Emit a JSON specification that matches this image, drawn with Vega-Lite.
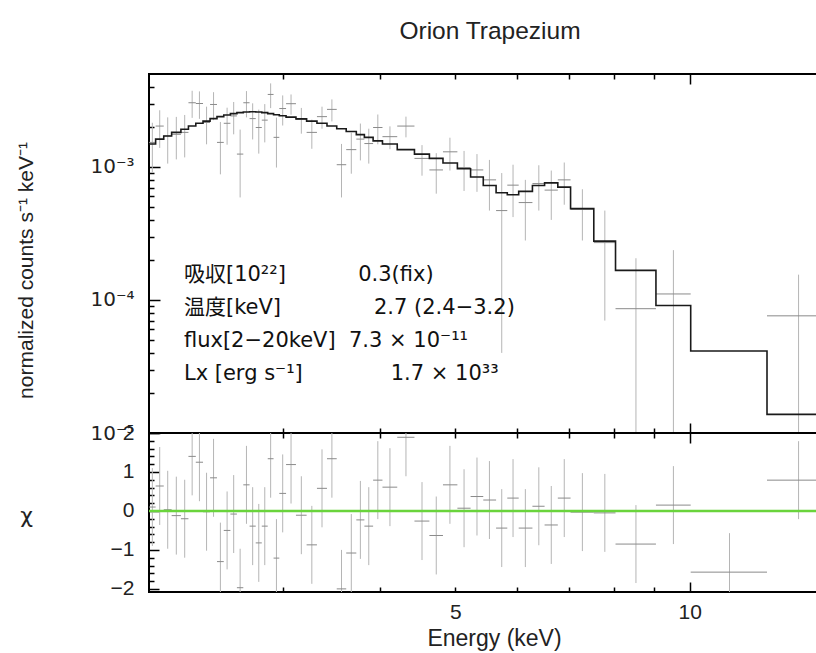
{
  "$schema": "https://vega.github.io/schema/vega-lite/v6.json",
  "background": "white",
  "padding": {"left": 14, "top": 18, "right": 0, "bottom": 3},
  "spacing": 0,
  "bounds": "flush",
  "title": {"text": "Orion Trapezium", "font": "Liberation Sans", "fontSize": 24.5, "fontWeight": "normal", "color": "#222", "offset": 28, "anchor": "middle", "frame": "group", "dx": 6},
  "config": {
    "view": {"stroke": "#000", "strokeWidth": 2},
    "axis": {"grid": false, "domain": false, "tickColor": "#000", "tickWidth": 1.5, "labelFont": "Liberation Sans", "labelFontSize": 21, "labelColor": "#222", "titleFont": "Liberation Sans", "titleFontSize": 21, "titleFontWeight": "normal", "titleColor": "#222"}
  },
  "datasets": {
    "bins": [
      {"lo":2.02,"hi":2.06,"e":2.04,"flux":0.00153,"flo":0.00091,"fhi":0.00215,"res":0.1,"rlo":-0.9,"rhi":1.1},
      {"lo":2.06,"hi":2.11,"e":2.085,"flux":0.00203,"flo":0.00139,"fhi":0.00267,"res":0.64,"rlo":-0.36,"rhi":1.64},
      {"lo":2.11,"hi":2.16,"e":2.135,"flux":0.00171,"flo":0.00106,"fhi":0.00236,"res":0.03,"rlo":-0.97,"rhi":1.03},
      {"lo":2.16,"hi":2.22,"e":2.19,"flux":0.00176,"flo":0.00114,"fhi":0.00238,"res":-0.12,"rlo":-1.12,"rhi":0.88},
      {"lo":2.22,"hi":2.27,"e":2.245,"flux":0.00182,"flo":0.00118,"fhi":0.00246,"res":-0.2,"rlo":-1.2,"rhi":0.8},
      {"lo":2.27,"hi":2.32,"e":2.295,"flux":0.00304,"flo":0.00234,"fhi":0.00374,"res":1.4,"rlo":0.4,"rhi":2.4},
      {"lo":2.32,"hi":2.37,"e":2.345,"flux":0.003,"flo":0.0023,"fhi":0.0037,"res":1.25,"rlo":0.25,"rhi":2.25},
      {"lo":2.37,"hi":2.42,"e":2.395,"flux":0.00216,"flo":0.00148,"fhi":0.00284,"res":-0.02,"rlo":-1.02,"rhi":0.98},
      {"lo":2.42,"hi":2.47,"e":2.445,"flux":0.00295,"flo":0.00225,"fhi":0.00365,"res":0.85,"rlo":-0.15,"rhi":1.85},
      {"lo":2.47,"hi":2.52,"e":2.495,"flux":0.00153,"flo":0.00088,"fhi":0.00218,"res":-1.3,"rlo":-2.3,"rhi":-0.3},
      {"lo":2.52,"hi":2.57,"e":2.545,"flux":0.00213,"flo":0.00147,"fhi":0.00279,"res":-0.5,"rlo":-1.5,"rhi":0.5},
      {"lo":2.57,"hi":2.62,"e":2.595,"flux":0.00242,"flo":0.00176,"fhi":0.00308,"res":-0.08,"rlo":-1.08,"rhi":0.92},
      {"lo":2.62,"hi":2.67,"e":2.645,"flux":0.00125,"flo":0.00059,"fhi":0.00191,"res":-1.97,"rlo":-2.97,"rhi":-0.97},
      {"lo":2.67,"hi":2.72,"e":2.695,"flux":0.00304,"flo":0.00236,"fhi":0.00372,"res":0.67,"rlo":-0.33,"rhi":1.67},
      {"lo":2.72,"hi":2.77,"e":2.745,"flux":0.00231,"flo":0.00161,"fhi":0.00301,"res":-0.39,"rlo":-1.39,"rhi":0.61},
      {"lo":2.77,"hi":2.82,"e":2.795,"flux":0.00198,"flo":0.00126,"fhi":0.0027,"res":-0.82,"rlo":-1.82,"rhi":0.18},
      {"lo":2.82,"hi":2.87,"e":2.845,"flux":0.00225,"flo":0.00153,"fhi":0.00297,"res":-0.39,"rlo":-1.39,"rhi":0.61},
      {"lo":2.87,"hi":2.92,"e":2.895,"flux":0.00351,"flo":0.00277,"fhi":0.00425,"res":1.34,"rlo":0.34,"rhi":2.34},
      {"lo":2.92,"hi":2.97,"e":2.945,"flux":0.00167,"flo":0.00099,"fhi":0.00235,"res":-1.21,"rlo":-2.21,"rhi":-0.21},
      {"lo":2.97,"hi":3.03,"e":3.0,"flux":0.00275,"flo":0.00205,"fhi":0.00345,"res":0.45,"rlo":-0.55,"rhi":1.45},
      {"lo":3.03,"hi":3.12,"e":3.075,"flux":0.00299,"flo":0.00247,"fhi":0.00351,"res":1.19,"rlo":0.19,"rhi":2.19},
      {"lo":3.12,"hi":3.22,"e":3.17,"flux":0.00228,"flo":0.00178,"fhi":0.00278,"res":-0.11,"rlo":-1.11,"rhi":0.89},
      {"lo":3.22,"hi":3.32,"e":3.27,"flux":0.00182,"flo":0.00137,"fhi":0.00227,"res":-0.87,"rlo":-1.87,"rhi":0.13},
      {"lo":3.32,"hi":3.42,"e":3.37,"flux":0.00239,"flo":0.00194,"fhi":0.00284,"res":0.58,"rlo":-0.42,"rhi":1.58},
      {"lo":3.42,"hi":3.52,"e":3.47,"flux":0.00271,"flo":0.0022,"fhi":0.00322,"res":1.34,"rlo":0.34,"rhi":2.34},
      {"lo":3.52,"hi":3.62,"e":3.57,"flux":0.00104,"flo":0.00059,"fhi":0.00149,"res":-2.0,"rlo":-3.0,"rhi":-1.0},
      {"lo":3.62,"hi":3.73,"e":3.675,"flux":0.00135,"flo":0.00089,"fhi":0.00181,"res":-1.08,"rlo":-2.08,"rhi":-0.08},
      {"lo":3.73,"hi":3.82,"e":3.775,"flux":0.00162,"flo":0.00112,"fhi":0.00212,"res":-0.23,"rlo":-1.23,"rhi":0.77},
      {"lo":3.82,"hi":3.92,"e":3.87,"flux":0.0015,"flo":0.00106,"fhi":0.00194,"res":-0.39,"rlo":-1.39,"rhi":0.61},
      {"lo":3.92,"hi":4.03,"e":3.975,"flux":0.00198,"flo":0.00148,"fhi":0.00248,"res":0.79,"rlo":-0.21,"rhi":1.79},
      {"lo":4.03,"hi":4.21,"e":4.12,"flux":0.00169,"flo":0.00136,"fhi":0.00202,"res":0.61,"rlo":-0.39,"rhi":1.61},
      {"lo":4.21,"hi":4.43,"e":4.32,"flux":0.00203,"flo":0.00167,"fhi":0.00239,"res":1.89,"rlo":0.89,"rhi":2.89},
      {"lo":4.43,"hi":4.63,"e":4.53,"flux":0.00116,"flo":0.00086,"fhi":0.00146,"res":-0.26,"rlo":-1.26,"rhi":0.74},
      {"lo":4.63,"hi":4.82,"e":4.725,"flux":0.00095,"flo":0.00063,"fhi":0.00127,"res":-0.63,"rlo":-1.63,"rhi":0.37},
      {"lo":4.82,"hi":5.03,"e":4.92,"flux":0.0013,"flo":0.00094,"fhi":0.00166,"res":0.67,"rlo":-0.33,"rhi":1.67},
      {"lo":5.03,"hi":5.23,"e":5.13,"flux":0.00099,"flo":0.00066,"fhi":0.00132,"res":0.07,"rlo":-0.93,"rhi":1.07},
      {"lo":5.23,"hi":5.43,"e":5.33,"flux":0.00095,"flo":0.00065,"fhi":0.00125,"res":0.37,"rlo":-0.63,"rhi":1.37},
      {"lo":5.43,"hi":5.64,"e":5.53,"flux":0.0008,"flo":0.00047,"fhi":0.00113,"res":0.28,"rlo":-0.72,"rhi":1.28},
      {"lo":5.64,"hi":5.83,"e":5.735,"flux":0.00047,"flo":0.00004,"fhi":0.0009,"res":-0.44,"rlo":-1.44,"rhi":0.56},
      {"lo":5.83,"hi":6.03,"e":5.93,"flux":0.00073,"flo":0.00042,"fhi":0.00104,"res":0.33,"rlo":-0.67,"rhi":1.33},
      {"lo":6.03,"hi":6.28,"e":6.15,"flux":0.00054,"flo":0.00028,"fhi":0.0008,"res":-0.44,"rlo":-1.44,"rhi":0.56},
      {"lo":6.28,"hi":6.51,"e":6.4,"flux":0.00075,"flo":0.00047,"fhi":0.00103,"res":0.12,"rlo":-0.88,"rhi":1.12},
      {"lo":6.51,"hi":6.77,"e":6.64,"flux":0.00067,"flo":0.0004,"fhi":0.00094,"res":-0.36,"rlo":-1.36,"rhi":0.64},
      {"lo":6.77,"hi":7.03,"e":6.9,"flux":0.0008,"flo":0.00052,"fhi":0.00108,"res":0.33,"rlo":-0.67,"rhi":1.33},
      {"lo":7.03,"hi":7.53,"e":7.28,"flux":0.00048,"flo":0.00028,"fhi":0.00068,"res":-0.03,"rlo":-1.03,"rhi":0.97},
      {"lo":7.53,"hi":8.03,"e":7.78,"flux":0.00027,"flo":0.00007,"fhi":0.00047,"res":-0.05,"rlo":-1.05,"rhi":0.95},
      {"lo":8.03,"hi":9.05,"e":8.53,"flux":0.000086,"flo":0.000001,"fhi":0.000206,"res":-0.85,"rlo":-1.85,"rhi":0.15},
      {"lo":9.05,"hi":10.03,"e":9.53,"flux":0.000111,"flo":0.000001,"fhi":0.000237,"res":0.15,"rlo":-0.85,"rhi":1.15},
      {"lo":10.03,"hi":12.57,"e":11.25,"flux":null,"flo":null,"fhi":null,"res":-1.57,"rlo":-2.57,"rhi":-0.57},
      {"lo":12.57,"hi":15.2,"e":13.8,"flux":0.000076,"flo":0.000001,"fhi":0.000155,"res":0.79,"rlo":-0.21,"rhi":1.79}
    ],
    "model": [
      {"e":2.02,"m":0.00149},{"e":2.06,"m":0.00162},{"e":2.11,"m":0.00171},{"e":2.16,"m":0.00182},{"e":2.22,"m":0.00192},
      {"e":2.27,"m":0.00203},{"e":2.32,"m":0.00213},{"e":2.37,"m":0.00221},{"e":2.42,"m":0.00231},{"e":2.47,"m":0.00239},
      {"e":2.52,"m":0.00246},{"e":2.57,"m":0.00252},{"e":2.62,"m":0.00256},{"e":2.67,"m":0.00259},{"e":2.72,"m":0.0026},
      {"e":2.77,"m":0.00259},{"e":2.82,"m":0.00256},{"e":2.87,"m":0.00252},{"e":2.92,"m":0.00247},{"e":2.97,"m":0.00243},
      {"e":3.03,"m":0.00237},{"e":3.12,"m":0.0023},{"e":3.22,"m":0.00221},{"e":3.32,"m":0.00213},{"e":3.42,"m":0.00203},
      {"e":3.52,"m":0.00194},{"e":3.62,"m":0.00185},{"e":3.73,"m":0.00175},{"e":3.82,"m":0.00167},{"e":3.92,"m":0.00157},
      {"e":4.03,"m":0.00149},{"e":4.21,"m":0.00135},{"e":4.43,"m":0.00125},{"e":4.63,"m":0.00116},{"e":4.82,"m":0.00107},
      {"e":5.03,"m":0.00097},{"e":5.23,"m":0.00084},{"e":5.43,"m":0.000725},{"e":5.64,"m":0.00064},{"e":5.83,"m":0.000618},
      {"e":6.03,"m":0.000655},{"e":6.28,"m":0.000725},{"e":6.51,"m":0.00076},{"e":6.77,"m":0.000705},{"e":7.03,"m":0.000486},
      {"e":7.53,"m":0.000277},{"e":8.03,"m":0.000167},{"e":9.05,"m":0.000091},{"e":10.03,"m":0.0000414},{"e":12.57,"m":0.0000138},
      {"e":15.2,"m":0.0000138}
    ],
    "notes": [
      {"x":2.24,"y":0.000154,"t":"吸収[10²²]"},
      {"x":3.75,"y":0.000154,"t":"0.3(fix)"},
      {"x":2.24,"y":0.000087,"t":"温度[keV]"},
      {"x":3.93,"y":0.000087,"t":"2.7 (2.4−3.2)"},
      {"x":2.24,"y":0.000049,"t":"flux[2−20keV]"},
      {"x":3.65,"y":0.000049,"t":"7.3 × 10⁻¹¹"},
      {"x":2.24,"y":0.000028,"t":"Lx [erg s⁻¹]"},
      {"x":4.13,"y":0.000028,"t":"1.7 × 10³³"}
    ]
  },
  "vconcat": [
    {
      "width": 670,
      "height": 359,
      "resolve": {"axis": {"x": "independent", "y": "independent"}},
      "layer": [
        {
          "data": {"name": "bins"},
          "transform": [{"filter": {"field": "flux", "valid": true}}],
          "mark": {"type": "rule", "color": "#b5b5b5", "strokeWidth": 1, "clip": true},
          "encoding": {
            "x": {"field": "e", "type": "quantitative", "scale": {"type": "log", "domain": [2.02, 14.66], "nice": false},
              "axis": {"orient": "bottom", "labels": false, "title": null, "values": [3,4,5,6,7,8,9], "tickSize": 5, "offset": -5}},
            "y": {"field": "flo", "type": "quantitative", "scale": {"type": "log", "domain": [0.00001, 0.005], "nice": false},
              "axis": {"orient": "left", "title": "normalized counts s⁻¹ keV⁻¹", "titleX": -134, "titleY": 196, "titleAngle": 270, "titleAlign": "center", "titleBaseline": "middle",
                "values": [0.00001,0.0001,0.001],
                "labelExpr": "datum.value == 0.001 ? '10⁻³' : datum.value == 0.0001 ? '10⁻⁴' : '10⁻⁵'",
                "labelFont": "DejaVu Sans", "labelFontSize": 20, "labelPadding": 15, "tickSize": 11, "offset": -11}},
            "y2": {"field": "fhi"}
          }
        },
        {
          "data": {"name": "bins"},
          "transform": [{"filter": {"field": "flux", "valid": true}}],
          "mark": {"type": "rule", "color": "#8a8a8a", "strokeWidth": 1, "clip": true},
          "encoding": {
            "x": {"field": "lo", "type": "quantitative", "scale": {"type": "log", "domain": [2.02, 14.66], "nice": false},
              "axis": {"orient": "top", "labels": false, "title": null, "values": [3,4,5,6,7,8,9], "tickSize": 5, "offset": -5}},
            "x2": {"field": "hi"},
            "y": {"field": "flux", "type": "quantitative",
              "axis": {"orient": "left", "labels": false, "title": null, "tickSize": 5, "offset": -5,
                "values": [0.00002,0.00003,0.00004,0.00005,0.00006,0.00007,0.00008,0.00009,0.0002,0.0003,0.0004,0.0005,0.0006,0.0007,0.0008,0.0009,0.002,0.003,0.004]}}
          }
        },
        {
          "data": {"name": "model"},
          "mark": {"type": "line", "interpolate": "step-after", "color": "#1a1a1a", "strokeWidth": 1.6, "clip": true},
          "encoding": {
            "x": {"field": "e", "type": "quantitative", "axis": {"orient": "bottom", "labels": false, "title": null, "values": [10], "tickSize": 10, "offset": -10}},
            "y": {"field": "m", "type": "quantitative", "axis": null}
          }
        },
        {
          "data": {"name": "notes"},
          "mark": {"type": "text", "align": "left", "baseline": "middle", "font": "DejaVu Sans, Noto Sans CJK JP", "fontSize": 21, "color": "#111"},
          "encoding": {
            "x": {"field": "x", "type": "quantitative", "axis": {"orient": "top", "labels": false, "title": null, "values": [10], "tickSize": 10, "offset": -10}},
            "y": {"field": "y", "type": "quantitative", "axis": null},
            "text": {"field": "t"}
          }
        }
      ]
    },
    {
      "width": 670,
      "height": 159,
      "resolve": {"axis": {"x": "independent", "y": "independent"}},
      "layer": [
        {
          "data": {"name": "bins"},
          "mark": {"type": "rule", "color": "#b5b5b5", "strokeWidth": 1, "clip": true},
          "encoding": {
            "x": {"field": "e", "type": "quantitative", "scale": {"type": "log", "domain": [2.02, 14.66], "nice": false},
              "axis": {"orient": "bottom", "title": "Energy (keV)", "titleFontSize": 23, "titlePadding": 5, "titleX": 345, "titleAlign": "center", "values": [3,4,5,6,7,8,9],
                "labelExpr": "datum.value == 5 ? '5' : ''", "labelPadding": 9, "tickSize": 5, "offset": -5}},
            "y": {"field": "rlo", "type": "quantitative", "scale": {"domain": [-2.08, 2.0], "nice": false, "zero": false},
              "axis": {"orient": "left", "title": "χ", "titleFont": "DejaVu Sans", "titleX": -133, "titleY": 82, "titleAngle": 0, "titleAlign": "center", "titleBaseline": "middle", "titleFontSize": 22,
                "values": [-2, -1, 0, 1, 2], "labelPadding": 15, "tickSize": 10, "offset": -10}},
            "y2": {"field": "rhi"}
          }
        },
        {
          "data": {"name": "bins"},
          "mark": {"type": "rule", "color": "#8a8a8a", "strokeWidth": 1, "clip": true},
          "encoding": {
            "x": {"field": "lo", "type": "quantitative", "scale": {"type": "log", "domain": [2.02, 14.66], "nice": false},
              "axis": {"orient": "top", "labels": false, "title": null, "values": [3,4,5,6,7,8,9], "tickSize": 5, "offset": -5}},
            "x2": {"field": "hi"},
            "y": {"field": "res", "type": "quantitative",
              "axis": {"orient": "left", "labels": false, "title": null, "tickSize": 5, "offset": -5,
                "values": [-1.8,-1.6,-1.4,-1.2,-0.8,-0.6,-0.4,-0.2,0.2,0.4,0.6,0.8,1.2,1.4,1.6,1.8]}}
          }
        },
        {
          "data": {"name": "bins"},
          "mark": {"type": "point", "opacity": 0},
          "encoding": {
            "x": {"field": "e", "type": "quantitative", "axis": {"orient": "bottom", "title": null, "values": [10], "labelPadding": 9, "tickSize": 10, "offset": -10}},
            "y": {"field": "res", "type": "quantitative", "axis": null}
          }
        },
        {
          "data": {"name": "bins"},
          "mark": {"type": "point", "opacity": 0},
          "encoding": {
            "x": {"field": "e", "type": "quantitative", "axis": {"orient": "top", "labels": false, "title": null, "values": [10], "tickSize": 10, "offset": -10}},
            "y": {"field": "res", "type": "quantitative", "axis": null}
          }
        },
        {
          "data": {"values": [{}]},
          "mark": {"type": "rule", "color": "#6ad43c", "strokeWidth": 2.5},
          "encoding": {"y": {"datum": 0, "axis": null}}
        }
      ]
    }
  ]
}
